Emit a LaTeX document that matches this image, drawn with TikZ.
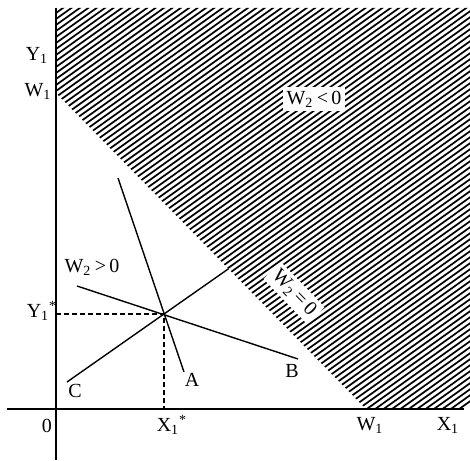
\documentclass[tikz,border=0pt]{standalone}
\usepackage{fontspec}
\setmainfont{Liberation Serif}
\usetikzlibrary{positioning}

\begin{document}
\begin{tikzpicture}[x=0.5pt, y=0.5pt, every node/.style={font=\fontsize{10}{12}\selectfont, inner sep=1pt},
  ax/.style={line width=0.9pt},
  ln/.style={line width=0.7pt},
  dsh/.style={line width=0.7pt, dash pattern=on 2.5pt off 1.5pt},
  htch/.style={line width=0.85pt},
  wbox/.style={fill=white, inner sep=2pt}]
\useasboundingbox (-56,-51) rectangle (414,409);
% points
\coordinate (O) at (0,0);
\coordinate (Ytop) at (0,401);
\coordinate (Ybot) at (0,-51);
\coordinate (Xl) at (-49,0);
\coordinate (Xr) at (408,0);
\coordinate (Wy) at (0,316);
\coordinate (Wx) at (310,0);
\coordinate (P) at (108,95);
\coordinate (Atop) at (62,231);
\coordinate (Aend) at (128,37);
\coordinate (Bst) at (21,123);
\coordinate (Bend) at (242,50);
\coordinate (Cst) at (11,27);
\coordinate (Cend) at (intersection of Cst--P and Wy--Wx);
\coordinate (Py) at (0,95);
\coordinate (Px) at (108,0);
% hatched region
\begin{scope}
\clip (Wy) -- (0,401) -- (414,401) -- (414,4) -- (408,0) -- (Wx) -- cycle;
\foreach \c in {-300,-294,...,410}
  \draw[htch] (-10,\c-7.14) -- (420,\c+300);
\end{scope}
% axes
\draw[ax] (Ybot) -- (Ytop);
\draw[ax] (Xl) -- (Xr);
% lines through P
\draw[ln] (Atop) -- (Aend);
\draw[ln] (Bst) -- (Bend);
\draw[ln] (Cst) -- (Cend);
\draw[dsh] (Py) -- (P) -- (Px);
% labels
\node (ly1) at (-19,354) {Y\textsubscript{1}};
\node (lw1y) at (-18,318) {W\textsubscript{1}};
\node (lys) at (-14,98) {Y\textsubscript{1}\textsuperscript{*}};
\node (lo) at (-9,-17) {0};
\node (lxs) at (116,-16) {X\textsubscript{1}\textsuperscript{*}};
\node (lw1x) at (314,-16) {W\textsubscript{1}};
\node (lx1) at (392,-16) {X\textsubscript{1}};
\node (la) at (136,29) {A};
\node (lb) at (236,38) {B};
\node (lc) at (19,18) {C};
\node (lpos) at (36,142) {W\textsubscript{2}\,>\,0};
\node[wbox] (lneg) at (258,310) {W\textsubscript{2}\,<\,0};
\node[wbox, rotate=-46] (lzero) at (238,116) {W\textsubscript{2}\,=\,0};
\end{tikzpicture}
\end{document}
